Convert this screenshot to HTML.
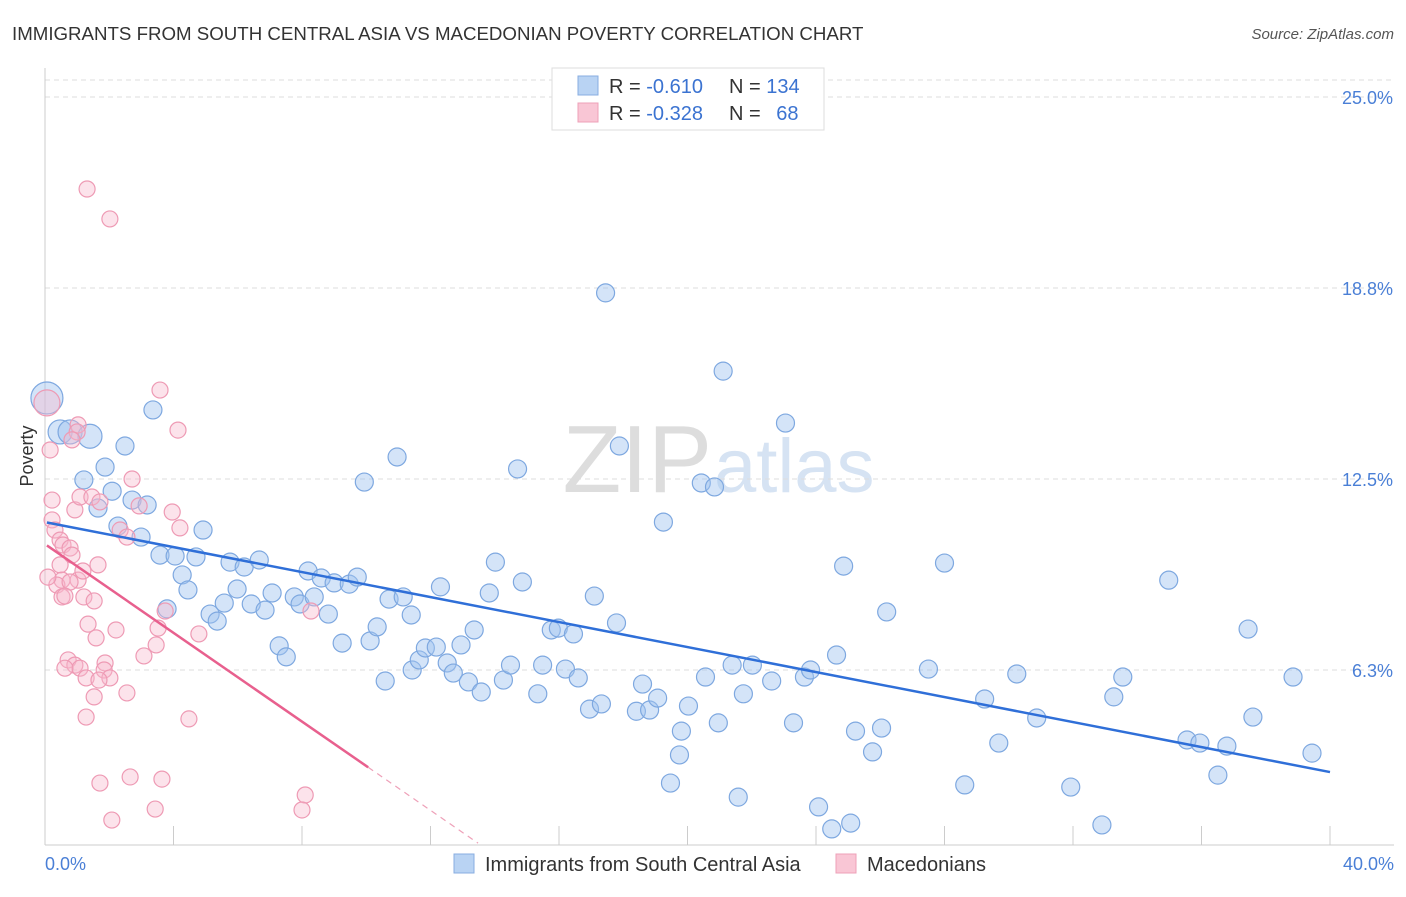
<!DOCTYPE html>
<html><head><meta charset="utf-8"><style>
body{margin:0;background:#fff;font-family:"Liberation Sans",sans-serif;}
svg text{font-family:"Liberation Sans",sans-serif;}
</style></head><body>
<svg id="chart" width="1406" height="892" xmlns="http://www.w3.org/2000/svg">
<text x="12" y="40" font-size="18.7" fill="#333">IMMIGRANTS FROM SOUTH CENTRAL ASIA VS MACEDONIAN POVERTY CORRELATION CHART</text>
<text x="1394" y="39" font-size="15" fill="#555" font-style="italic" text-anchor="end">Source: ZipAtlas.com</text>
<text x="712" y="492" font-size="96" fill="#ddd" font-family="Liberation Serif" text-anchor="end">ZIP</text>
<text x="714" y="492" font-size="76" fill="#d6e3f3">atlas</text>
<g id="grid"></g>
<g id="pts"></g>
<g id="lines"></g>
<text transform="translate(33,456) rotate(-90)" font-size="18" fill="#333" text-anchor="middle">Poverty</text>
<text x="45" y="870" font-size="18" fill="#4a7fd6">0.0%</text>
<text x="1394" y="870" font-size="18" fill="#4a7fd6" text-anchor="end">40.0%</text>
<g>
<rect x="552" y="68" width="272" height="62" fill="#fff" stroke="#ddd"/>
<rect x="578" y="76" width="20" height="19" fill="#b9d3f3" stroke="#88aee0"/>
<rect x="578" y="103" width="20" height="19" fill="#f9c6d5" stroke="#eea0b8"/>
<text x="609" y="93" font-size="20" fill="#333">R = <tspan fill="#3b73d1">-0.610</tspan></text>
<text x="729" y="93" font-size="20" fill="#333">N = <tspan fill="#3b73d1">134</tspan></text>
<text x="609" y="120" font-size="20" fill="#333">R = <tspan fill="#3b73d1">-0.328</tspan></text>
<text x="729" y="120" font-size="20" fill="#333">N = <tspan fill="#3b73d1" dx="10">68</tspan></text>
</g>
<g>
<rect x="454" y="854" width="20" height="19" fill="#b9d3f3" stroke="#88aee0"/>
<text x="485" y="871" font-size="20" fill="#333">Immigrants from South Central Asia</text>
<rect x="836" y="854" width="20" height="19" fill="#f9c6d5" stroke="#eea0b8"/>
<text x="867" y="871" font-size="20" fill="#333">Macedonians</text>
</g>
</svg>
<script>
const yTicks=[25,18.75,12.5,6.25];
const yTickLabels=["25.0%","18.8%","12.5%","6.3%"];
const blueX=[0.06,0.47,0.78,1.4,1.21,1.87,2.09,1.65,2.49,3.36,2.27,2.71,3.18,2.99,4.92,3.58,4.05,4.7,4.27,4.45,3.8,5.14,5.36,5.58,5.98,5.76,6.2,6.67,6.42,6.85,7.07,7.29,7.51,7.76,7.94,8.19,8.38,8.6,8.82,9.0,9.47,9.72,9.25,9.94,10.12,10.34,10.59,10.71,11.15,10.96,11.43,11.65,11.84,12.18,11.4,12.31,12.52,12.71,13.18,12.95,13.36,13.58,13.83,14.02,14.27,14.49,14.71,14.86,15.34,15.49,15.76,15.98,16.2,16.45,16.6,16.95,17.32,17.1,17.45,17.79,17.88,18.41,18.6,18.82,19.07,19.25,19.47,19.75,19.81,20.03,20.43,20.56,20.84,20.96,21.11,21.39,21.58,21.74,22.02,22.62,23.05,23.3,23.64,23.83,24.08,24.49,24.64,24.86,25.08,25.23,25.76,26.04,26.2,27.5,28.0,28.63,29.25,29.69,30.25,30.87,31.93,32.9,33.27,33.55,34.98,35.55,35.95,36.51,36.79,37.45,37.6,38.85,39.44];
const blueY=[15.15,14.04,14.04,13.9,12.47,12.89,12.1,11.55,13.58,14.76,10.96,11.81,11.65,10.6,10.83,10.01,9.98,9.95,9.36,8.87,8.25,8.08,7.85,8.44,8.9,9.78,9.62,9.85,8.41,8.21,8.77,7.04,6.68,8.64,8.41,9.49,8.64,9.26,8.08,9.1,9.06,9.29,7.13,12.4,7.2,7.66,5.89,8.57,8.64,13.22,6.25,6.58,6.97,7.0,8.05,8.97,6.48,6.15,5.86,7.07,7.56,5.53,8.77,9.78,5.92,6.41,12.83,9.13,5.47,6.41,7.56,7.62,6.28,7.43,5.99,4.97,5.14,8.67,18.59,7.79,13.58,4.9,5.79,4.94,5.33,11.09,2.55,3.47,4.25,5.07,12.37,6.02,12.24,4.52,16.03,6.41,2.09,5.47,6.41,5.89,14.33,4.52,6.02,6.25,1.77,1.05,6.74,9.65,1.24,4.25,3.57,4.35,8.15,6.28,9.75,2.49,5.3,3.86,6.12,4.68,2.42,1.18,5.37,6.02,9.19,3.96,3.86,2.81,3.76,7.59,4.71,6.02,3.53];
const pinkX=[1.31,2.02,0.06,0.16,0.22,0.22,0.31,0.47,0.56,0.78,0.84,0.47,1.03,0.53,0.37,0.78,1.18,0.53,0.62,1.21,1.53,1.65,0.93,1.09,1.46,1.71,1.03,1.0,0.84,1.34,1.59,2.21,0.72,0.93,1.09,0.62,1.87,1.84,2.02,1.28,1.68,1.53,2.55,1.28,2.71,2.93,2.34,2.55,3.58,4.14,3.96,4.2,3.52,3.74,3.46,3.08,4.79,4.48,2.65,1.71,3.64,3.43,2.08,8.1,8.0,8.28,0.09];
const pinkY=[21.99,21.01,14.99,13.45,11.81,11.16,10.83,10.5,10.34,10.24,10.01,9.69,9.19,9.19,9.03,9.13,9.49,8.64,8.67,8.64,8.51,9.69,11.49,11.91,11.91,11.75,14.27,14.04,13.78,7.75,7.3,7.56,6.58,6.41,6.31,6.31,6.48,6.25,5.99,5.99,5.92,5.37,5.5,4.71,12.5,11.62,10.83,10.6,15.41,14.1,11.42,10.9,7.62,8.18,7.07,6.71,7.43,4.65,2.75,2.55,2.68,1.7,1.34,2.16,1.67,8.18,9.29];
const blueBig=[0,1,2,3];
const blueTrend=[11.09,2.91];
const pinkTrend=[10.37,-0.726];
const pinkSolidEnd=10.06, pinkDashEnd=13.48;
const X=v=>45+v*32.125, Y=v=>97+(25-v)*30.56;
const NS="http://www.w3.org/2000/svg";
function mk(t,a,p){const e=document.createElementNS(NS,t);for(const k in a)e.setAttribute(k,a[k]);p.appendChild(e);return e;}
const grid=document.getElementById('grid');
const topGrid=mk('line',{x1:45,x2:1394,y1:80,y2:80,stroke:'#ddd','stroke-dasharray':'5,4'},grid);


yTicks.forEach((t,i)=>{
 const l=mk('line',{x1:45,x2:1394,y1:Y(t),y2:Y(t),stroke:'#ddd','stroke-dasharray':'5,4'},grid);
 
 
 const tx=mk('text',{x:1393,y:Y(t)+7,'font-size':18,fill:'#4a7fd6','text-anchor':'end'},grid);
 tx.textContent=yTickLabels[i];
 
 
});
const ax=mk('line',{x1:45,x2:1394,y1:845,y2:845,stroke:'#ccc'},grid);


const ay=mk('line',{x1:45,x2:45,y1:68,y2:845,stroke:'#ccc'},grid);


for(let i=1;i<=10;i++){const t=mk('line',{x1:X(i*4),x2:X(i*4),y1:826,y2:845,stroke:'#ccc'},grid);
 
 }
const pts=document.getElementById('pts');
blueX.forEach((x,i)=>{const r=i===0?16:(blueBig.includes(i)?12:9);
 const c=mk('circle',{cx:X(x),cy:Y(blueY[i]),r:r,fill:'rgba(160,196,240,0.45)',stroke:'#7ea8e0','stroke-width':1.2},pts);
 
 });
pinkX.forEach((x,i)=>{const r=i===2?13:8;
 const c=mk('circle',{cx:X(x),cy:Y(pinkY[i]),r:r,fill:'rgba(248,184,204,0.4)',stroke:'#ee9ab4','stroke-width':1.2},pts);
 
 });
const ln=document.getElementById('lines');
const bl=mk('line',{x1:X(0.06),y1:Y(blueTrend[0]+(blueTrend[1]-blueTrend[0])*0.06/40),x2:X(40),y2:Y(blueTrend[1]),stroke:'#2f6fd8','stroke-width':2.5},ln);


const pf=v=>pinkTrend[0]+pinkTrend[1]*v;
const pl=mk('line',{x1:X(0.06),y1:Y(pf(0.06)),x2:X(pinkSolidEnd),y2:Y(pf(pinkSolidEnd)),stroke:'#e8608e','stroke-width':2.5},ln);


const pd=mk('line',{x1:X(pinkSolidEnd),y1:Y(pf(pinkSolidEnd)),x2:X(pinkDashEnd),y2:Y(pf(pinkDashEnd)),stroke:'#eea0b8','stroke-width':1.2,'stroke-dasharray':'6,5'},ln);


</script>
</body></html>
